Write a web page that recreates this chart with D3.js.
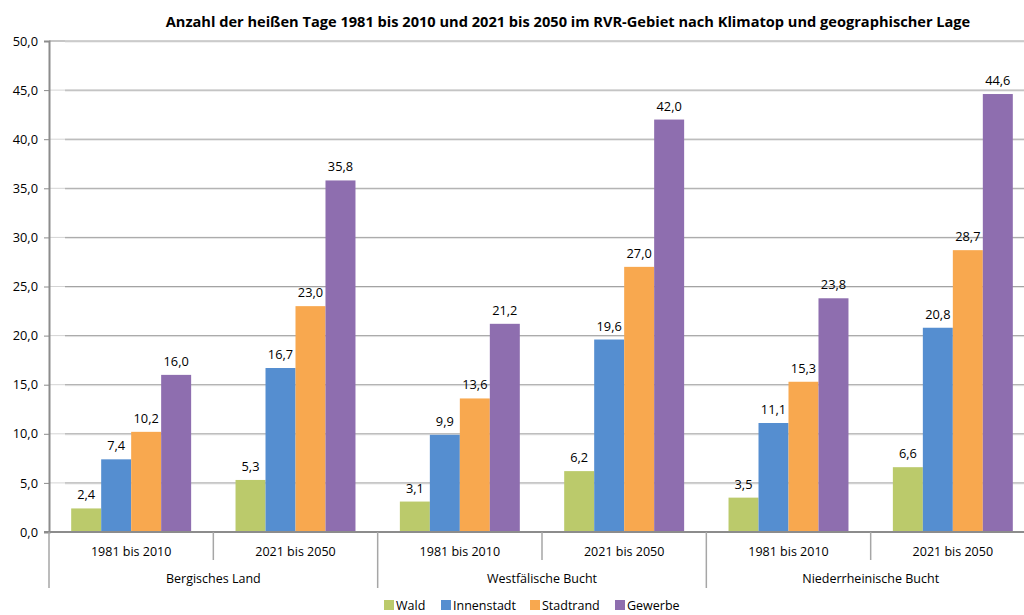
<!DOCTYPE html>
<html>
<head>
<meta charset="utf-8">
<script src="https://cdn.jsdelivr.net/npm/d3@7"></script>
<style>
  html, body { margin: 0; padding: 0; background: #fff; }
  svg { display: block; font-family: "Open Sans", "Liberation Sans", sans-serif; }
</style>
</head>
<body>
<svg id="chart" width="1024" height="615"></svg>
<script>
// Heiße Tage je Klimatop, Zeitraum und Region
const regions = ["Bergisches Land", "Westfälische Bucht", "Niederrheinische Bucht"];
const periods = ["1981 bis 2010", "2021 bis 2050"];
const series = ["Wald", "Innenstadt", "Stadtrand", "Gewerbe"];
const colors = ["#BBCA6B", "#558ED0", "#F8A84F", "#8E6EAF"];

// values per group (region × period), in series order
const wald       = [2.4, 5.3, 3.1, 6.2, 3.5, 6.6];
const innenstadt = [7.4, 16.7, 9.9, 19.6, 11.1, 20.8];
const stadtrand  = [10.2, 23.0, 13.6, 27.0, 15.3, 28.7];
const gewerbe    = [16.0, 35.8, 21.2, 42.0, 23.8, 44.6];
const yTicks = [0, 5, 10, 15, 20, 25, 30, 35, 40, 45, 50];

const title = "Anzahl der heißen Tage 1981 bis 2010 und 2021 bis 2050 im RVR-Gebiet nach Klimatop und geographischer Lage";

const seriesValues = [wald, innenstadt, stadtrand, gewerbe];
const groups = [];
regions.forEach((r, ri) => periods.forEach((p, pi) => groups.push({ key: ri + "|" + pi, region: r, period: p, idx: groups.length })));

const fmt = v => v.toFixed(1).replace(".", ",");

const svg = d3.select("#chart");
const plotLeft = 49, plotRight = 1035, plotTop = 41, plotBottom = 532;

const y = d3.scaleLinear().domain([0, 50]).range([plotBottom, plotTop]);
const x0 = d3.scaleBand().domain(groups.map(g => g.key)).range([plotLeft, plotRight]).padding(0);
const x1 = d3.scaleBand().domain(series).range([0, x0.bandwidth()]).paddingInner(0).paddingOuter(0.74);
const color = d3.scaleOrdinal().domain(series).range(colors);

// title
svg.append("text")
  .attr("x", 568).attr("y", 27)
  .attr("text-anchor", "middle")
  .attr("font-weight", "bold")
  .attr("font-size", 14.6)
  .attr("fill", "#000")
  .text(title);

// gridlines with a light depth segment next to the axis
const grid = svg.append("g");
yTicks.filter(t => t > 0).forEach(t => {
  grid.append("line")
    .attr("x1", plotLeft).attr("x2", plotLeft + 16)
    .attr("y1", y(t)).attr("y2", y(t))
    .attr("stroke", "#D4D4D4").attr("stroke-width", 1);
  grid.append("line")
    .attr("x1", plotLeft + 16).attr("x2", 1024)
    .attr("y1", y(t) + 1).attr("y2", y(t) + 1)
    .attr("stroke", "#E4E4E4").attr("stroke-width", 1);
  grid.append("line")
    .attr("x1", t === 50 ? plotLeft : plotLeft + 16).attr("x2", 1024)
    .attr("y1", y(t)).attr("y2", y(t))
    .attr("stroke", "#A3A3A3").attr("stroke-width", 1);
});

// y axis
const yAxis = d3.axisLeft(y).tickValues(yTicks).tickSize(5).tickPadding(6).tickFormat(fmt);
const yg = svg.append("g").attr("transform", `translate(${plotLeft},0)`).call(yAxis);
yg.select(".domain").attr("stroke", "#8C8C8C").attr("stroke-width", 2);
yg.selectAll(".tick line").attr("stroke", "#8C8C8C");
yg.selectAll(".tick text").attr("font-size", 12.8).attr("fill", "#000")
  .attr("font-family", "\"Open Sans\", sans-serif");

// bars
const barData = [];
groups.forEach(g => series.forEach((s, si) => barData.push({ g, s, v: seriesValues[si][g.idx] })));

const bars = svg.append("g");
bars.selectAll("rect").data(barData).join("rect")
  .attr("x", d => x0(d.g.key) + x1(d.s))
  .attr("width", x1.bandwidth())
  .attr("y", d => y(d.v))
  .attr("height", d => y(0) - y(d.v))
  .attr("fill", d => color(d.s));

bars.selectAll("text").data(barData).join("text")
  .attr("x", d => x0(d.g.key) + x1(d.s) + x1.bandwidth() / 2)
  .attr("y", d => y(d.v) - 9)
  .attr("text-anchor", "middle")
  .attr("font-size", 12.8)
  .attr("fill", "#000")
  .text(d => fmt(d.v));

// x axis baseline
svg.append("line")
  .attr("x1", plotLeft - 5).attr("x2", 1024)
  .attr("y1", plotBottom).attr("y2", plotBottom)
  .attr("stroke", "#8C8C8C").attr("stroke-width", 2);

// category separators
const sep = svg.append("g").attr("stroke", "#A6A6A6").attr("stroke-width", 1.5);
groups.forEach((g, i) => {
  const xs = x0(g.key);
  const long = i % periods.length === 0;
  sep.append("line")
    .attr("x1", xs).attr("x2", xs)
    .attr("y1", plotBottom).attr("y2", long ? 588 : 560);
});
sep.append("line").attr("x1", plotRight).attr("x2", plotRight).attr("y1", plotBottom).attr("y2", 588);

// period labels
svg.append("g").selectAll("text").data(groups).join("text")
  .attr("x", d => x0(d.key) + x0.bandwidth() / 2)
  .attr("y", 556)
  .attr("text-anchor", "middle")
  .attr("font-size", 12.5)
  .attr("fill", "#000")
  .text(d => d.period);

// region labels
svg.append("g").selectAll("text").data(regions).join("text")
  .attr("x", (d, i) => x0(groups[i * periods.length].key) + x0.bandwidth())
  .attr("y", 583)
  .attr("text-anchor", "middle")
  .attr("font-size", 12.5)
  .attr("fill", "#000")
  .text(d => d);

// legend
const legendX = [384, 441, 530, 615];
const lg = svg.append("g");
series.forEach((s, i) => {
  lg.append("rect").attr("x", legendX[i]).attr("y", 600).attr("width", 10).attr("height", 10).attr("fill", color(s));
  lg.append("text").attr("x", legendX[i] + 12).attr("y", 610)
    .attr("font-size", 12.5).attr("fill", "#000").text(s);
});
</script>
</body>
</html>
